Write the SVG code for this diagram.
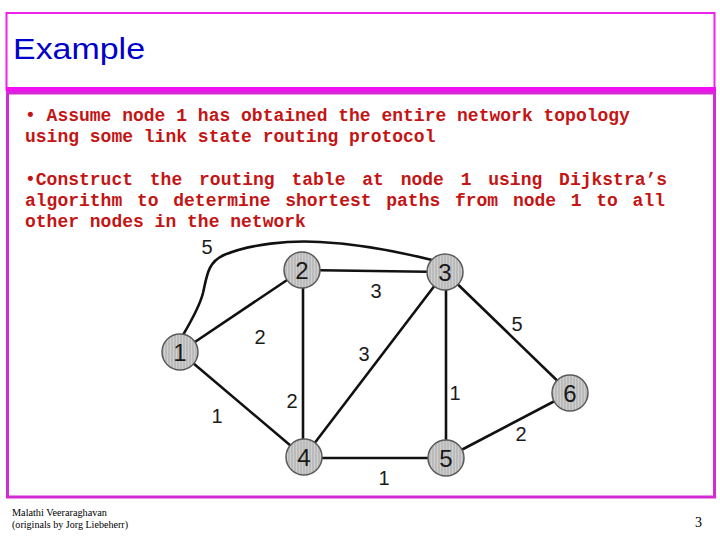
<svg xmlns="http://www.w3.org/2000/svg" width="720" height="540" viewBox="0 0 720 540">
<defs>
<pattern id="hatch" width="3" height="3" patternUnits="userSpaceOnUse">
<rect width="3" height="3" fill="#cfcfcf"/>
<line x1="1" y1="0" x2="1" y2="3" stroke="#a8a8a8" stroke-width="1"/>
</pattern>
<style>
.node circle{fill:url(#hatch);stroke:#5a5a5a;stroke-width:1.5}
.node text{font-family:"Liberation Sans",Arial,sans-serif;font-size:24px;fill:#1a1a1a;text-anchor:middle}
.edge{stroke:#111;stroke-width:2.6;fill:none}
.lbl{font-family:"Liberation Sans",Arial,sans-serif;font-size:20px;fill:#1a1a1a;text-anchor:middle}
.body{font-family:"Liberation Mono","Courier New",monospace;font-size:18px;font-weight:bold;fill:#c41414}
.foot{font-family:"Liberation Serif","Times New Roman",serif;font-size:11px;fill:#000}
</style>
</defs>
<rect width="720" height="540" fill="#fff"/>
<g id="title">
<rect x="6.5" y="13" width="708" height="77" fill="none" stroke="#ee22ee" stroke-width="2"/>
<rect x="6" y="87" width="710" height="6" fill="#f010f0"/>
<text x="13" y="59" font-family="'Liberation Sans',Arial,sans-serif" font-size="30" fill="#0000cc" textLength="132" lengthAdjust="spacingAndGlyphs">Example</text>
</g>
<g id="body-frame">
<rect x="7.5" y="93" width="707" height="404" fill="none" stroke="#d42ad4" stroke-width="3"/>
</g>
<g id="text">
<text class="body" x="25" y="121" xml:space="preserve">• Assume node 1 has obtained the entire network topology</text>
<text class="body" x="25" y="142">using some link state routing protocol</text>
<text class="body" x="25" y="185" word-spacing="6">•Construct the routing table at node 1 using Dijkstra’s</text>
<text class="body" x="25" y="206" word-spacing="3.9">algorithm to determine shortest paths from node 1 to all</text>
<text class="body" x="25" y="227">other nodes in the network</text>
</g>
<g id="connectors">
<path class="edge" d="M183,335 C193,318 200,305 203,293 C207,275 208,262 224,255 C250,244 290,240 320,242 C360,244 400,252 432,260"/>
<line class="edge" x1="180" y1="352" x2="302" y2="270"/>
<line class="edge" x1="180" y1="352" x2="304" y2="457" stroke-width="2.2"/>
<line class="edge" x1="302" y1="270" x2="445" y2="272"/>
<line class="edge" x1="303" y1="270" x2="303" y2="457"/>
<line class="edge" x1="445" y1="272" x2="304" y2="457"/>
<line class="edge" x1="446" y1="272" x2="446" y2="458"/>
<line class="edge" x1="445" y1="272" x2="570" y2="393"/>
<line class="edge" x1="304" y1="458" x2="446" y2="458"/>
<line class="edge" x1="446" y1="458" x2="570" y2="393" stroke-width="3.2"/>
</g>
<g id="edge-labels">
<text class="lbl" x="207" y="254">5</text>
<text class="lbl" x="376" y="298">3</text>
<text class="lbl" x="260" y="344">2</text>
<text class="lbl" x="364" y="361">3</text>
<text class="lbl" x="517" y="331">5</text>
<text class="lbl" x="217" y="423">1</text>
<text class="lbl" x="292" y="408">2</text>
<text class="lbl" x="455" y="400">1</text>
<text class="lbl" x="521" y="441">2</text>
<text class="lbl" x="384" y="485">1</text>
</g>
<g id="node1" class="node"><circle cx="180" cy="352" r="18"/><text x="180" y="361">1</text></g>
<g id="node2" class="node"><circle cx="302" cy="270" r="18"/><text x="302" y="279">2</text></g>
<g id="node3" class="node"><circle cx="445" cy="272" r="18"/><text x="445" y="281">3</text></g>
<g id="node4" class="node"><circle cx="304" cy="457" r="18"/><text x="304" y="466">4</text></g>
<g id="node5" class="node"><circle cx="446" cy="458" r="18"/><text x="446" y="467">5</text></g>
<g id="node6" class="node"><circle cx="570" cy="393" r="18"/><text x="570" y="402">6</text></g>
<g id="footer">
<text class="foot" x="12" y="516" textLength="95" lengthAdjust="spacingAndGlyphs">Malathi Veeraraghavan</text>
<text class="foot" x="12" y="528" textLength="116" lengthAdjust="spacingAndGlyphs">(originals by Jorg Liebeherr)</text>
<text x="695" y="527" font-family="'Liberation Serif','Times New Roman',serif" font-size="14" fill="#000">3</text>
</g>
</svg>
